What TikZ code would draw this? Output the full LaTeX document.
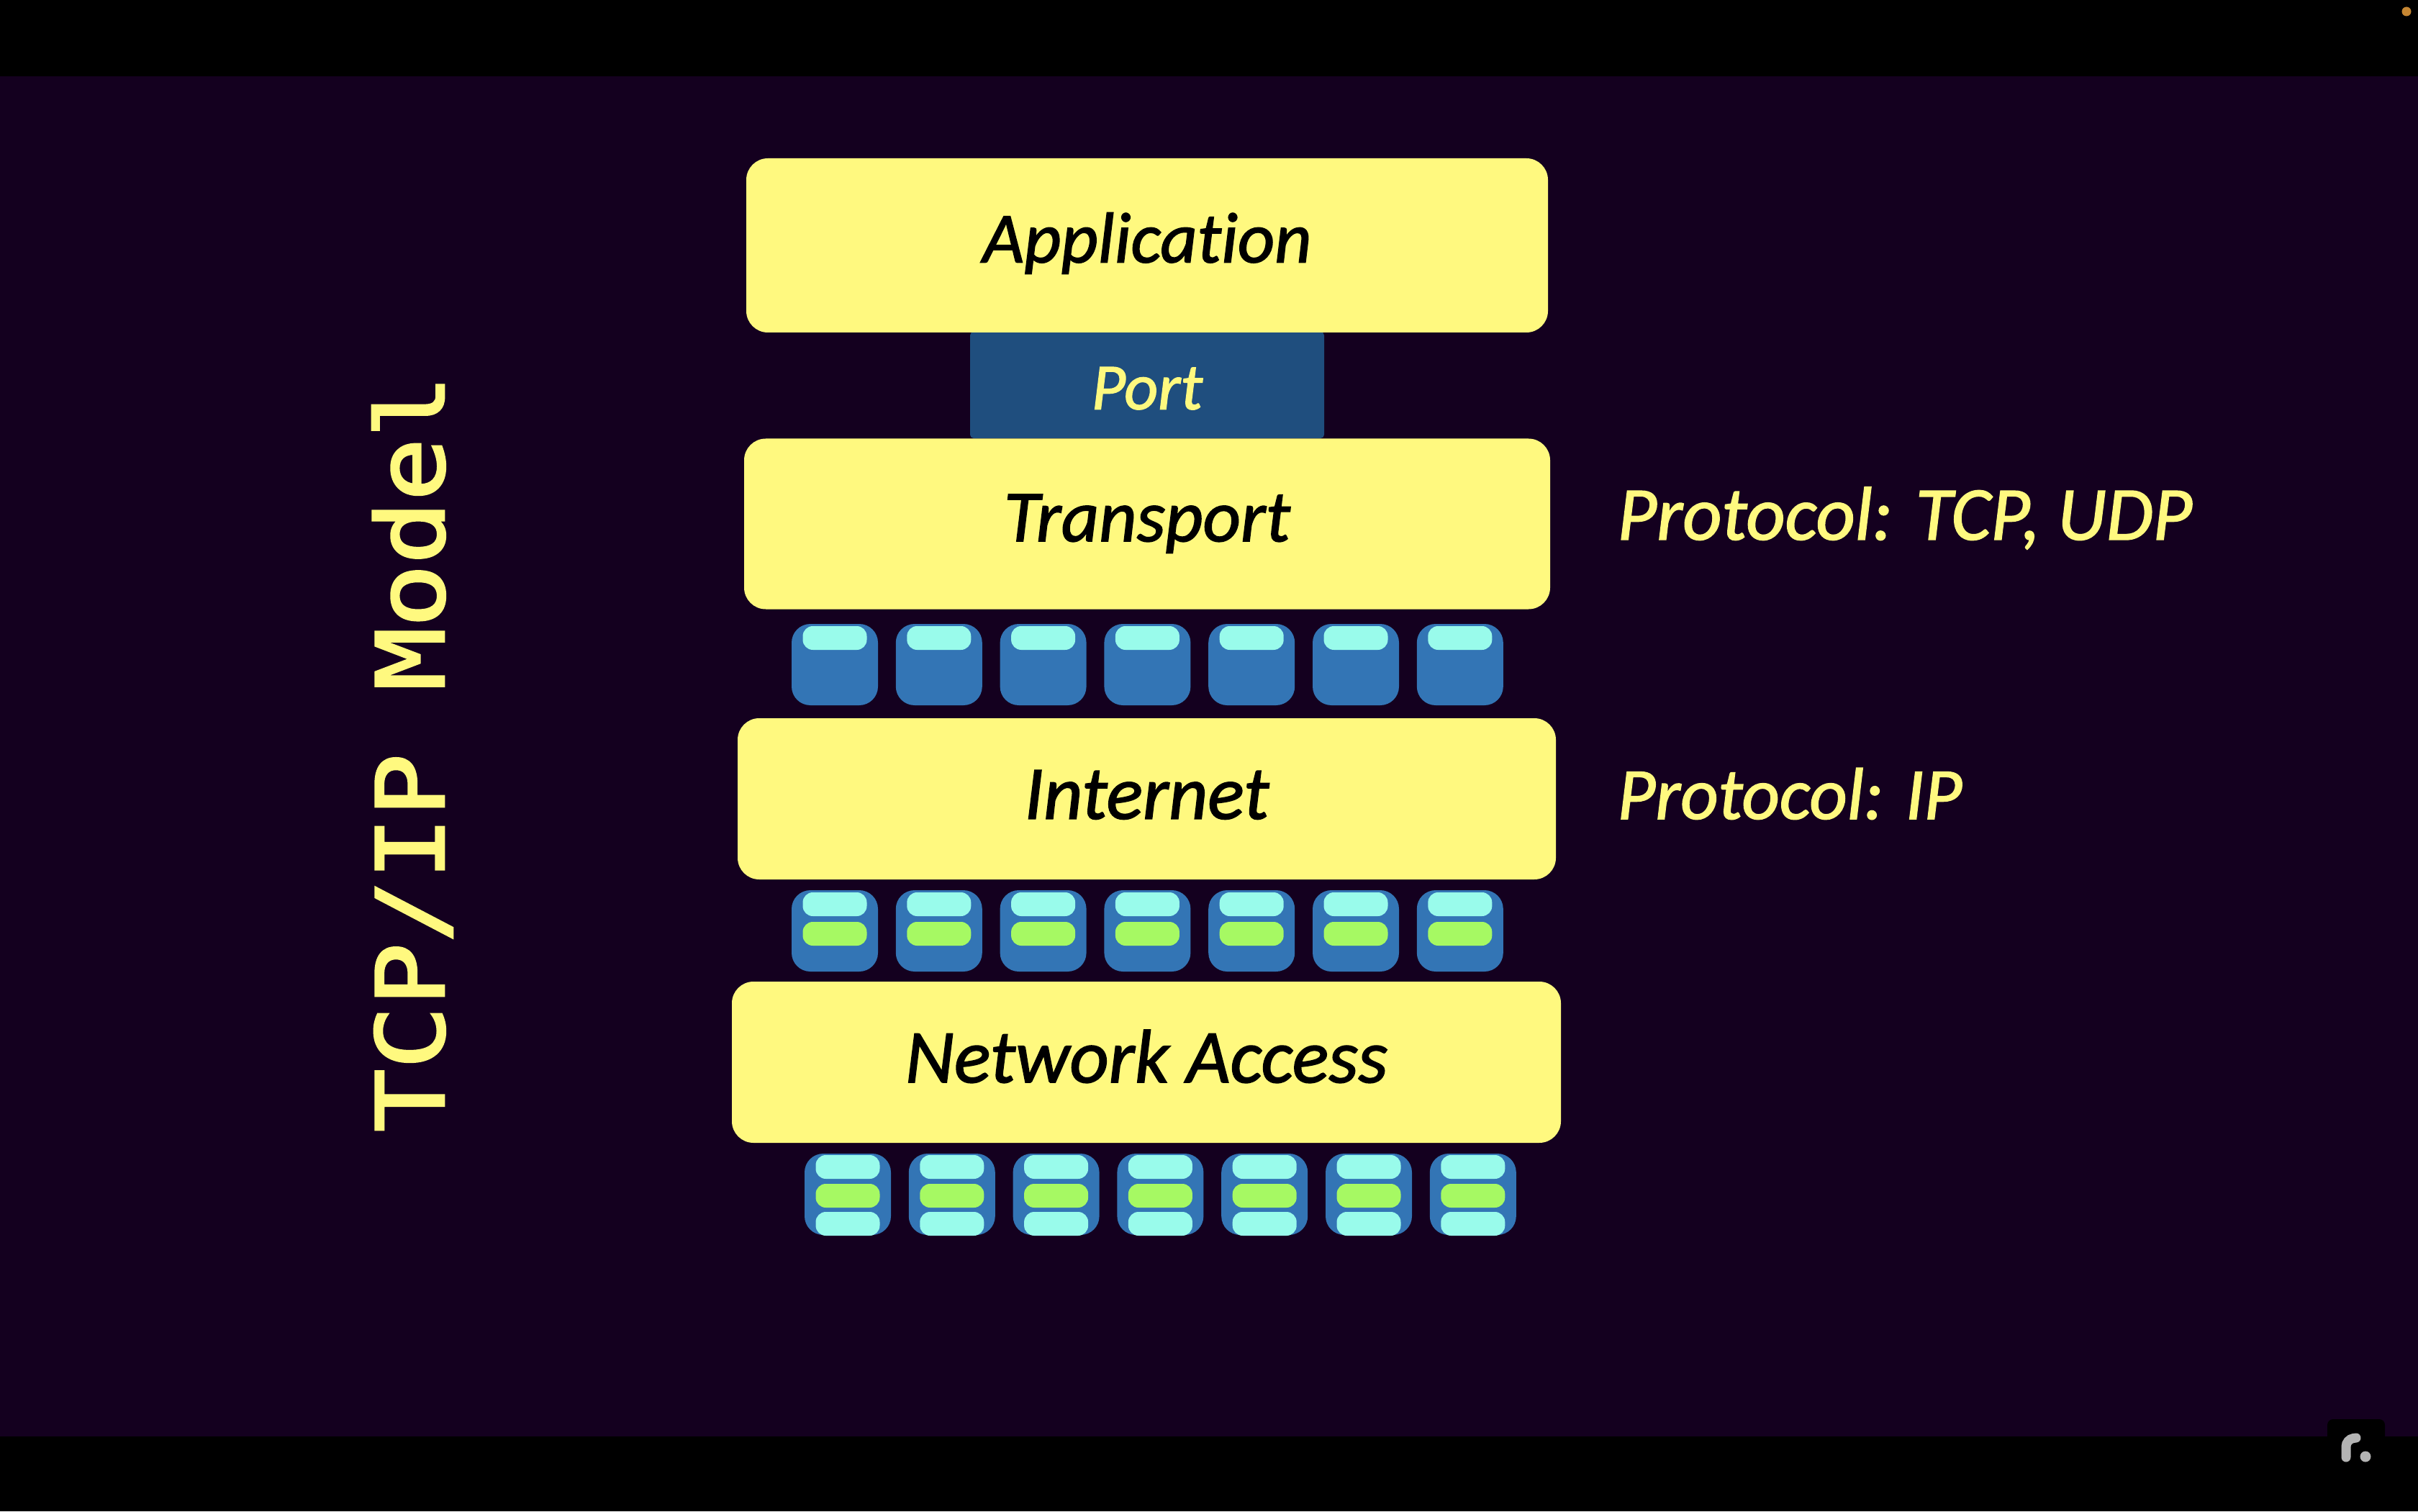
\documentclass[tikz,border=0pt]{standalone}
\usepackage{fontspec}
\setmainfont{Carlito}[Ligatures=NoCommon,ItalicFeatures={FakeBold=1.5}]
\newfontfamily\monotitulo{DejaVu Sans Mono}[FakeStretch=1.12,FakeBold=2.5]
\usetikzlibrary{positioning,calc}
\definecolor{fondo}{HTML}{14001F}
\definecolor{amarillo}{HTML}{FFF97F}
\definecolor{azulpaq}{HTML}{3375B5}
\definecolor{azulport}{HTML}{1F4E7E}
\definecolor{cian}{HTML}{99FBEB}
\definecolor{verde}{HTML}{A6F963}
\definecolor{gris}{HTML}{B4B4B4}
\definecolor{naranja}{HTML}{C68632}
\tikzset{
  capa/.style    = {fill=amarillo, rounded corners=0.3cm, inner sep=0pt, outer sep=0pt,
                    align=center, font=\fontsize{30}{36}\selectfont\itshape, text=black},
  puerto/.style  = {fill=azulport, rounded corners=0.05cm, inner sep=0pt, outer sep=0pt,
                    minimum width=4.92cm, minimum height=1.48cm, text height=0.68cm,
                    font=\fontsize{26}{31}\selectfont\itshape, text=amarillo},
  paq/.style     = {fill=azulpaq, rounded corners=0.26cm, inner sep=0pt, outer sep=0pt,
                    minimum width=1.2cm, minimum height=1.13cm},
  barra/.style   = {rounded corners=0.14cm, inner sep=0pt, outer sep=0pt,
                    minimum width=0.89cm, minimum height=0.33cm},
  nota/.style    = {anchor=west, inner sep=0pt, text=amarillo,
                    font=\fontsize{30}{36}\selectfont\itshape},
  titulo/.style  = {rotate=90, inner sep=0pt, text=amarillo,
                    font=\fontsize{37}{45}\selectfont\monotitulo},
}
\begin{document}
\begin{tikzpicture}
  \useasboundingbox (0,0) rectangle (33.6,21);
  \fill[black] (0,0) rectangle (33.6,21);
  \fill[fondo] (0,1.04) rectangle (33.6,19.94);
  \fill[black,rounded corners=0.08cm] (32.34,0.5) rectangle (33.14,1.28);
  \fill[naranja] (33.44,20.84) circle (0.065);
  % logo
  \draw[gris,line width=0.13cm,line cap=round,rounded corners=0.1cm] (32.6,0.75) -- (32.6,1.0) -- (32.74,1.02);
  \fill[gris] (32.87,0.76) circle (0.075);
  \node[titulo] (modelo) at (5.73,10.53) {TCP/IP Model};
  \node[puerto] (port) at (15.94,15.65) {Port};
  \node[capa,minimum width=11.14cm,minimum height=2.42cm,text depth=0.22cm,font=\fontsize{28.4}{34}\selectfont\itshape] (app) at (15.94,17.59) {Application};
  \node[capa,minimum width=11.2cm,minimum height=2.37cm,text depth=0.17cm,font=\fontsize{29}{35}\selectfont\itshape] (trans) at (15.94,13.72) {Transport};
  \node[capa,minimum width=11.37cm,minimum height=2.24cm,text depth=0.12cm] (inet) at (15.935,9.9) {Internet};
  \node[capa,minimum width=11.52cm,minimum height=2.24cm,text depth=0.17cm] (red) at (15.93,6.24) {Network Access};
  \node[nota] (prottrans) at (22.47,13.8) {Protocol: TCP, UDP};
  \node[nota,font=\fontsize{29}{35}\selectfont\itshape] (protinet) at (22.47,9.97) {Protocol: IP};
  \foreach \i in {0,...,6} {
    \node[paq] (a\i) at ({11.6+1.448*\i},11.765) {};
    \node[barra,fill=cian,below=0.03cm of a\i.north] (a\i c) {};
    \node[paq] (b\i) at ({11.6+1.448*\i},8.065) {};
    \node[barra,fill=cian,below=0.03cm of b\i.north] (b\i c) {};
    \node[barra,fill=verde,below=0.08cm of b\i c] (b\i v) {};
    \node[paq] (c\i) at ({11.78+1.448*\i},4.405) {};
    \node[barra,fill=cian,below=0.02cm of c\i.north] (c\i c) {};
    \node[barra,fill=verde,below=0.07cm of c\i c] (c\i v) {};
    \node[barra,fill=cian,below=0.06cm of c\i v] (c\i d) {};
  }
\end{tikzpicture}
\end{document}
